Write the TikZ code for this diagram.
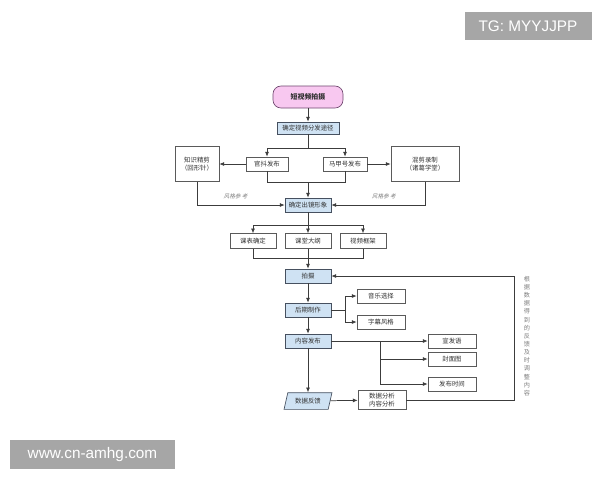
\documentclass[tikz,border=0pt]{standalone}
\usepackage{fontspec}
\usetikzlibrary{arrows.meta,shapes.geometric}
\newfontfamily\cjk{Noto Sans CJK SC}
\newfontfamily\cjkit[FakeSlant=0.25]{Noto Sans CJK SC}
\newfontfamily\wmfont{Liberation Sans}
\definecolor{pinkfill}{RGB}{248,200,240}
\definecolor{pinkdraw}{RGB}{110,70,110}
\definecolor{bluefill}{RGB}{207,226,243}
\definecolor{bluedraw}{RGB}{70,80,95}
\definecolor{boxdraw}{RGB}{90,90,90}
\definecolor{linec}{RGB}{60,60,60}
\definecolor{wmgray}{RGB}{166,166,166}
\definecolor{txtc}{RGB}{50,50,50}
\tikzset{
  box/.style={draw=boxdraw, line width=0.5pt, fill=white, inner sep=0pt,
    text=txtc, align=center, font=\cjk\fontsize{4.8}{6}\selectfont},
  bluebox/.style={box, fill=bluefill, draw=bluedraw},
  conn/.style={draw=linec, line width=0.55pt},
  arr/.style={conn, -{Latex[length=3.6pt,width=3pt]}},
  lbl/.style={font=\cjkit\fontsize{4.2}{5}\selectfont, text=gray},
  wm/.style={fill=wmgray, text=white, inner sep=0pt, font=\wmfont\fontsize{11.5}{14}\selectfont}
}
\begin{document}
\begin{tikzpicture}[x=0.75pt,y=-0.75pt]
\useasboundingbox (0,0) rectangle (600,480);
\fill[white] (0,0) rectangle (600,480);
% watermarks
\node[wm, minimum width=95.25pt, minimum height=21pt] (tg) at (528,26) {TG: MYYJJPP};
\node[wm, minimum width=123.75pt, minimum height=21.75pt] (www) at (92.5,454.5) {www.cn-amhg.com};
% nodes
\node[box, fill=pinkfill, draw=pinkdraw, rounded corners=6pt, minimum width=52.5pt, minimum height=16.5pt,
  font=\cjk\bfseries\fontsize{5.2}{6}\selectfont] (start) at (308,97) {短视频拍摄};
\node[bluebox, minimum width=46.5pt, minimum height=9pt] (fenfa) at (308,128) {确定视频分发途径};
\node[box, minimum width=31.5pt, minimum height=10.5pt] (guandou) at (267,164) {官抖发布};
\node[box, minimum width=33pt, minimum height=10.5pt] (majia) at (345,164) {马甲号发布};
\node[box, minimum width=33pt, minimum height=26pt] (zhishi) at (197,164) {知识精剪\\（回形针）};
\node[box, minimum width=51pt, minimum height=26pt] (hunjian) at (425,164) {混剪录制\\（诸葛学堂）};
\node[bluebox, minimum width=34.5pt, minimum height=10.5pt] (xingxiang) at (308,205) {确定出镜形象};
\node[box, minimum width=34.5pt, minimum height=11pt] (kebiao) at (253,241) {课表确定};
\node[box, minimum width=34.5pt, minimum height=11pt] (ketang) at (308,241) {课堂大纲};
\node[box, minimum width=34.5pt, minimum height=11pt] (kuangjia) at (363,241) {视频框架};
\node[bluebox, minimum width=34.5pt, minimum height=10.5pt] (paishe) at (308,276) {拍摄};
\node[bluebox, minimum width=34.5pt, minimum height=10.5pt] (houqi) at (308,310) {后期制作};
\node[box, minimum width=36pt, minimum height=10.5pt] (yinyue) at (381,296) {音乐选择};
\node[box, minimum width=36pt, minimum height=10.5pt] (zimu) at (381,322) {字幕风格};
\node[bluebox, minimum width=34.5pt, minimum height=10.5pt] (neirong) at (308,341) {内容发布};
\node[box, minimum width=36pt, minimum height=10.5pt] (xuanfa) at (452,341) {宣发语};
\node[box, minimum width=36pt, minimum height=10.5pt] (fengmian) at (452,359) {封面图};
\node[box, minimum width=36pt, minimum height=10.5pt] (shijian) at (452,384) {发布时间};
\node[bluebox, trapezium, trapezium left angle=68, trapezium right angle=112,
  trapezium stretches=true, minimum width=36pt, minimum height=12.5pt] (shuju) at (308,401) {数据反馈};
\node[box, minimum width=36pt, minimum height=14.5pt] (fenxi) at (382,400) {数据分析\\内容分析};
\node[font=\cjk\fontsize{4.6}{6.1}\selectfont, text=gray, align=center, inner sep=0pt] (note) at (527,336)
  {根\\据\\数\\据\\得\\到\\的\\反\\馈\\及\\时\\调\\整\\内\\容};
% coordinates
\coordinate (s1) at (308,148);
\coordinate (j1) at (308,182);
\coordinate (s2) at (308,225);
\coordinate (j2) at (308,258);
\coordinate (b1) at (345,310);
\coordinate (b2) at (380,341);
\coordinate (r1) at (514,400);
\coordinate (r2) at (514,276);
% connectors
\draw[arr] (start) -- (fenfa);
\draw[conn] (fenfa) -- (s1);
\draw[arr] (s1) -| (guandou.north);
\draw[arr] (s1) -| (majia.north);
\draw[arr] (guandou) -- (zhishi);
\draw[arr] (majia) -- (hunjian);
\draw[conn] (guandou.south) |- (j1);
\draw[conn] (majia.south) |- (j1);
\draw[arr] (j1) -- (xingxiang);
\draw[arr] (zhishi.south) |- node[lbl, pos=0.72, above=1pt] (lb1) {风格参 考} (xingxiang.west);
\draw[arr] (hunjian.south) |- node[lbl, pos=0.72, above=1pt] (lb2) {风格参 考} (xingxiang.east);
\draw[conn] (xingxiang) -- (s2);
\draw[arr] (s2) -| (kebiao.north);
\draw[arr] (s2) -- (ketang.north);
\draw[arr] (s2) -| (kuangjia.north);
\draw[conn] (kebiao.south) |- (j2);
\draw[conn] (kuangjia.south) |- (j2);
\draw[conn] (ketang.south) -- (j2);
\draw[arr] (j2) -- (paishe);
\draw[arr] (paishe) -- (houqi);
\draw[arr] (houqi) -- (neirong);
\draw[arr] (neirong) -- (shuju);
\draw[conn] (houqi) -- (b1);
\draw[arr] (b1) |- (yinyue.west);
\draw[arr] (b1) |- (zimu.west);
\draw[arr] (neirong) -- (xuanfa);
\draw[arr] (b2) |- (fengmian.west);
\draw[arr] (b2) |- (shijian.west);
\draw[arr] (shuju) -- (fenxi);
\draw[conn] (fenxi) -- (r1) -- (r2);
\draw[arr] (r2) -- (paishe.east);
\end{tikzpicture}
\end{document}
